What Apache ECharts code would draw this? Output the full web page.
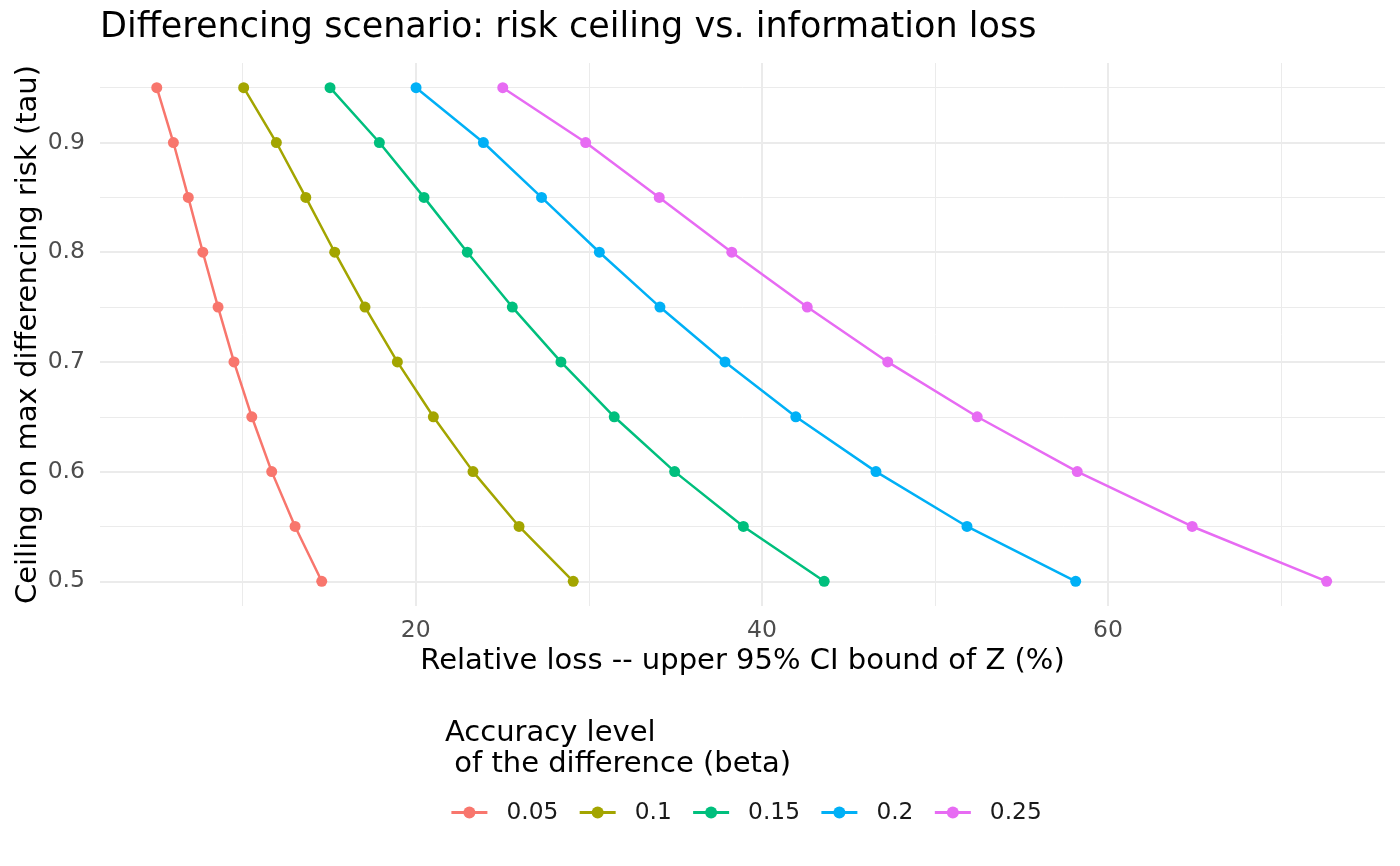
<!DOCTYPE html>
<html>
<head>
<meta charset="utf-8">
<title>Differencing scenario</title>
<script src="https://cdn.jsdelivr.net/npm/echarts@6/dist/echarts.min.js"></script>
<style>
  html, body { margin: 0; padding: 0; background: #fff; }
  #container { width: 1400px; height: 866px; }
</style>
</head>
<body>
<div id="container"></div>
<script>
// ceiling on max differencing risk (tau), same for every curve
var tauLevels = [0.95, 0.9, 0.85, 0.8, 0.75, 0.7, 0.65, 0.6, 0.55, 0.5];

// relative loss (%) per accuracy level beta
var betaNames = ['0.05', '0.1', '0.15', '0.2', '0.25'];
var loss005 = [5.04, 6.00, 6.86, 7.70, 8.58, 9.50, 10.53, 11.68, 13.03, 14.57];
var loss010 = [10.06, 11.95, 13.65, 15.32, 17.07, 18.94, 21.02, 23.31, 25.97, 29.10];
var loss015 = [15.05, 17.90, 20.48, 22.98, 25.58, 28.39, 31.47, 34.96, 38.93, 43.60];
var loss020 = [20.02, 23.91, 27.27, 30.61, 34.11, 37.87, 41.96, 46.59, 51.85, 58.13];
var loss025 = [25.03, 29.82, 34.07, 38.26, 42.62, 47.27, 52.44, 58.22, 64.86, 72.63];
var lossSeries = [loss005, loss010, loss015, loss020, loss025];

// ggplot hue palette
var colors = ['#F8766D', '#A3A500', '#00BF7D', '#00B0F6', '#E76BF3'];

var FONT = 'DejaVu Sans';
var GRID = '#EBEBEB';

function makeSeries() {
    var list = [];
    for (var i = 0; i < lossSeries.length; i++) {
        var pts = [];
        for (var j = 0; j < tauLevels.length; j++) {
            pts.push([lossSeries[i][j], tauLevels[j]]);
        }
        list.push({
            type: 'line',
            name: betaNames[i],
            data: pts,
            xAxisIndex: 0,
            yAxisIndex: 0,
            symbol: 'circle',
            symbolSize: 11,
            showAllSymbol: true,
            color: colors[i],
            lineStyle: {width: 2.5, color: colors[i]},
            itemStyle: {color: colors[i]},
            emphasis: {disabled: true},
            animation: false
        });
    }
    return list;
}

var dom = document.getElementById('container');
var myChart = echarts.init(dom, null, {renderer: 'canvas'});

var option = {
    backgroundColor: '#fff',
    textStyle: {fontFamily: FONT},
    title: [{
        text: 'Differencing scenario: risk ceiling vs. information loss',
        left: 100,
        top: 10,
        padding: 0,
        textStyle: {fontFamily: FONT, fontSize: 35, fontWeight: 'normal', color: '#000'}
    }, {
        text: 'Accuracy level\n of the difference (beta)',
        left: 445,
        top: 718,
        padding: 0,
        textStyle: {fontFamily: FONT, fontSize: 29, fontWeight: 'normal', color: '#000', lineHeight: 31}
    }],
    legend: {
        data: betaNames,
        left: 450,
        top: 801,
        padding: 0,
        itemWidth: 36,
        itemHeight: 15,
        itemGap: 20,
        selectedMode: false,
        lineStyle: {width: 2.8},
        textStyle: {fontFamily: FONT, fontSize: 23.3, color: '#1A1A1A', padding: [0, 0, 0, 14]}
    },
    grid: {left: 100, right: 15, top: 63, bottom: 260, containLabel: false},
    xAxis: [{
        // major lines + labels at 20, 40, 60
        type: 'value',
        min: 1.76,
        max: 76.0,
        splitNumber: 4,
        minInterval: 20,
        maxInterval: 20,
        position: 'bottom',
        name: 'Relative loss -- upper 95% CI bound of Z (%)',
        nameLocation: 'middle',
        nameGap: 41,
        nameMoveOverlap: false,
        nameTextStyle: {fontFamily: FONT, fontSize: 29, color: '#000'},
        axisLine: {show: false},
        axisTick: {show: false},
        axisLabel: {
            show: true, margin: 13, fontFamily: FONT, fontSize: 23.5, color: '#4D4D4D',
            showMinLabel: false, showMaxLabel: false,
            formatter: function(v) { return (Math.abs(v % 20) < 1e-6) ? String(v) : ''; }
        },
        splitLine: {show: true, showMinLine: false, showMaxLine: false, lineStyle: {color: GRID, width: 2}}
    }, {
        // minor lines at 10, 30, 50, 70
        type: 'value',
        min: 1.76,
        max: 76.0,
        splitNumber: 7,
        minInterval: 10,
        maxInterval: 10,
        position: 'bottom',
        axisLine: {show: false},
        axisTick: {show: false},
        axisLabel: {show: false},
        splitLine: {show: true, showMinLine: false, showMaxLine: false, lineStyle: {color: GRID, width: 1}}
    }],
    yAxis: [{
        type: 'value',
        min: 0.4775,
        max: 0.9725,
        splitNumber: 5,
        minInterval: 0.1,
        maxInterval: 0.1,
        position: 'left',
        name: 'Ceiling on max differencing risk (tau)',
        nameLocation: 'middle',
        nameGap: 57,
        nameMoveOverlap: false,
        nameTextStyle: {fontFamily: FONT, fontSize: 29, color: '#000'},
        axisLine: {show: false},
        axisTick: {show: false},
        axisLabel: {
            show: true, margin: 15, fontFamily: FONT, fontSize: 23.5, color: '#4D4D4D',
            showMinLabel: false, showMaxLabel: false,
            formatter: function(v) { return v.toFixed(1); }
        },
        splitLine: {show: true, showMinLine: false, showMaxLine: false, lineStyle: {color: GRID, width: 2}}
    }, {
        type: 'value',
        min: 0.4775,
        max: 0.9725,
        splitNumber: 10,
        minInterval: 0.05,
        maxInterval: 0.05,
        position: 'left',
        axisLine: {show: false},
        axisTick: {show: false},
        axisLabel: {show: false},
        splitLine: {show: true, showMinLine: false, showMaxLine: false, lineStyle: {color: GRID, width: 1}}
    }],
    series: makeSeries()
};

myChart.setOption(option, true);
window.onresize = function() {
    myChart.resize();
};
</script>
</body>
</html>
